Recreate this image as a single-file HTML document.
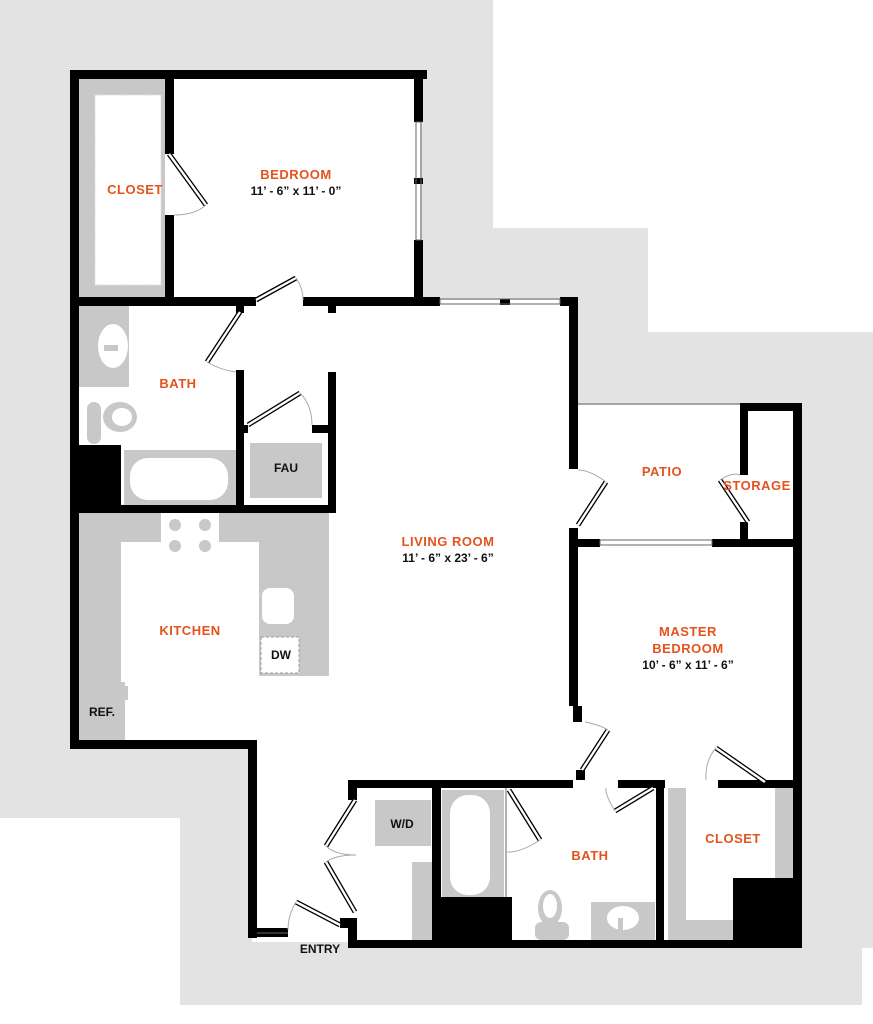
<!DOCTYPE html>
<html><head><meta charset="utf-8"><style>
html,body{margin:0;padding:0;background:#fff}
svg{display:block}
text{font-family:"Liberation Sans",sans-serif;font-weight:bold}
.o{fill:#e4531e;font-size:13px;letter-spacing:.5px}
.k{fill:#111;font-size:12px}
</style></head><body>
<svg width="873" height="1024" viewBox="0 0 873 1024" xmlns="http://www.w3.org/2000/svg">
<polygon points="0,0 493,0 493,228 648,228 648,332 873,332 873,948 862,948 862,1005 180,1005 180,818 0,818" fill="#e3e3e3"/>
<polygon points="75,75 420,75 420,300 575,300 575,405 798,405 798,942 252,942 252,742 75,742" fill="#fff"/>
<g fill="#c8c8c8">
<rect x="79" y="79" width="86" height="218"/>
<rect x="79" y="305" width="50" height="82"/>
<rect x="124" y="450" width="112" height="55"/>
<rect x="250" y="443" width="72" height="55"/>
<rect x="79" y="512" width="250" height="30"/>
<rect x="79" y="512" width="42" height="228"/>
<rect x="259" y="512" width="70" height="164"/>
<rect x="375" y="800" width="56" height="46"/>
<rect x="412" y="862" width="20" height="78"/>
<rect x="442" y="790" width="62" height="108"/>
<rect x="591" y="902" width="64" height="38"/>
<rect x="668" y="788" width="18" height="152"/>
<rect x="668" y="920" width="70" height="20"/>
<rect x="775" y="788" width="20" height="90"/>
<rect x="87" y="402" width="14" height="42" rx="7"/>
</g>
<g fill="#fff">
<rect x="95" y="95" width="66" height="190" stroke="#ddd" stroke-dasharray="4,2"/>
<ellipse cx="113" cy="346" rx="15" ry="22"/>
<rect x="130" y="458" width="98" height="42" rx="18"/>
<rect x="121" y="542" width="138" height="198"/>
<rect x="161" y="512" width="58" height="46"/>
<rect x="262" y="588" width="32" height="36" rx="8"/>
<rect x="261" y="637" width="38" height="36" stroke="#999" stroke-dasharray="3,2"/>
<rect x="450" y="795" width="40" height="100" rx="18"/>
<ellipse cx="623" cy="918" rx="16" ry="12"/>
</g>
<ellipse cx="120" cy="417" rx="17" ry="15" fill="#c8c8c8"/>
<ellipse cx="122" cy="417" rx="10" ry="9" fill="#fff"/>
<rect x="104" y="345" width="14" height="6" fill="#c8c8c8"/>
<rect x="79" y="682" width="46" height="58" fill="#c8c8c8"/>
<rect x="125" y="686" width="3" height="14" fill="#c8c8c8"/>
<g fill="#c8c8c8"><circle cx="175" cy="525" r="6"/><circle cx="205" cy="525" r="6"/><circle cx="175" cy="546" r="6"/><circle cx="205" cy="546" r="6"/></g>
<rect x="618" y="918" width="5" height="18" fill="#c8c8c8"/>
<ellipse cx="550" cy="908" rx="12" ry="18" fill="#c8c8c8"/>
<ellipse cx="550" cy="906" rx="7" ry="12" fill="#fff"/>
<rect x="535" y="922" width="34" height="18" rx="6" fill="#c8c8c8"/>
<g fill="#000">
<rect x="70" y="70" width="357" height="9"/>
<rect x="70" y="70" width="9" height="678"/>
<rect x="165" y="79" width="9" height="75"/>
<rect x="165" y="215" width="9" height="85"/>
<rect x="414" y="70" width="9" height="52"/>
<rect x="414" y="240" width="9" height="62"/>
<rect x="70" y="297" width="186" height="9"/>
<rect x="303" y="297" width="137" height="9"/>
<rect x="328" y="305" width="8" height="8"/>
<rect x="236" y="305" width="8" height="8"/>
<rect x="560" y="297" width="18" height="9"/>
<rect x="569" y="297" width="9" height="172"/>
<rect x="569" y="528" width="9" height="178"/>
<rect x="573" y="706" width="9" height="16"/>
<rect x="576" y="770" width="9" height="10"/>
<rect x="236" y="370" width="8" height="142"/>
<rect x="328" y="372" width="8" height="140"/>
<rect x="236" y="425" width="12" height="8"/>
<rect x="312" y="425" width="20" height="8"/>
<rect x="79" y="445" width="42" height="60"/>
<rect x="70" y="505" width="266" height="8"/>
<rect x="70" y="740" width="187" height="9"/>
<rect x="248" y="740" width="9" height="198"/>
<rect x="248" y="928" width="40" height="9"/>
<rect x="340" y="918" width="16" height="10"/>
<rect x="348" y="918" width="9" height="30"/>
<rect x="348" y="780" width="9" height="20"/>
<rect x="348" y="780" width="225" height="8"/>
<rect x="618" y="780" width="47" height="8"/>
<rect x="718" y="780" width="84" height="8"/>
<rect x="432" y="787" width="9" height="155"/>
<rect x="432" y="897" width="80" height="50"/>
<rect x="348" y="940" width="454" height="8"/>
<rect x="656" y="787" width="8" height="155"/>
<rect x="733" y="878" width="62" height="64"/>
<rect x="793" y="403" width="9" height="545"/>
<rect x="740" y="403" width="62" height="8"/>
<rect x="740" y="403" width="8" height="72"/>
<rect x="740" y="522" width="8" height="22"/>
<rect x="578" y="539" width="22" height="8"/>
<rect x="712" y="539" width="90" height="8"/>
<rect x="414" y="178" width="9" height="6"/>
<rect x="500" y="299" width="10" height="6"/>
</g>
<g stroke="#666" stroke-width="1" fill="none">
<rect x="416" y="122" width="5" height="118"/>
<rect x="440" y="299" width="120" height="5"/>
<rect x="600" y="540" width="112" height="5"/>
<line x1="578" y1="404" x2="740" y2="404"/>
<line x1="506" y1="788" x2="506" y2="897"/>
<line x1="257" y1="933" x2="288" y2="933"/>
</g>
<g stroke="#000" stroke-width="5" fill="none"><path d="M169,154 L206,205 M256,300 L296,278 M240,312 L207,362 M248,425 L300,393 M578,525 L606,482 M748,522 L720,480 M582,770 L608,730 M615,811 L653,788 M716,748 L765,782 M355,800 L326,846 M326,862 L355,912 M296,902 L340,925 M509,790 L540,840"/></g>
<g stroke="#fff" stroke-width="2.4" fill="none"><path d="M169,154 L206,205 M256,300 L296,278 M240,312 L207,362 M248,425 L300,393 M578,525 L606,482 M748,522 L720,480 M582,770 L608,730 M615,811 L653,788 M716,748 L765,782 M355,800 L326,846 M326,862 L355,912 M296,902 L340,925 M509,790 L540,840"/></g>
<g stroke="#aaa" stroke-width="1" fill="none">
<path d="M174,215 Q195,215 206,205"/><path d="M296,278 Q303,288 303,300"/><path d="M207,362 Q220,370 236,372"/><path d="M300,393 Q312,405 312,425"/>
<path d="M606,482 Q590,470 578,470"/><path d="M720,480 Q732,472 740,475"/><path d="M585,722 Q600,725 608,730"/><path d="M615,811 Q605,795 606,788"/><path d="M716,748 Q705,760 706,780"/><path d="M326,846 Q335,855 356,855"/><path d="M326,862 Q335,855 356,855"/><path d="M296,902 Q288,915 288,930"/><path d="M540,840 Q520,853 507,852"/>
</g>
<text class="o" x="296" y="179" text-anchor="middle">BEDROOM</text>
<text class="k" x="296" y="195" text-anchor="middle">11’ - 6” x 11’ - 0”</text>
<text class="o" x="135" y="194" text-anchor="middle">CLOSET</text>
<text class="o" x="178" y="388" text-anchor="middle">BATH</text>
<text class="k" x="286" y="472" text-anchor="middle">FAU</text>
<text class="o" x="448" y="546" text-anchor="middle">LIVING ROOM</text>
<text class="k" x="448" y="562" text-anchor="middle">11’ - 6” x 23’ - 6”</text>
<text class="o" x="190" y="635" text-anchor="middle">KITCHEN</text>
<text class="k" x="281" y="659" text-anchor="middle">DW</text>
<text class="k" x="102" y="716" text-anchor="middle">REF.</text>
<text class="o" x="662" y="476" text-anchor="middle">PATIO</text>
<text class="o" x="757" y="490" text-anchor="middle">STORAGE</text>
<text class="o" x="688" y="636" text-anchor="middle">MASTER</text>
<text class="o" x="688" y="653" text-anchor="middle">BEDROOM</text>
<text class="k" x="688" y="669" text-anchor="middle">10’ - 6” x 11’ - 6”</text>
<text class="k" x="402" y="828" text-anchor="middle">W/D</text>
<text class="o" x="590" y="860" text-anchor="middle">BATH</text>
<text class="o" x="733" y="843" text-anchor="middle">CLOSET</text>
<text class="k" x="320" y="953" text-anchor="middle">ENTRY</text>
</svg>
</body></html>
